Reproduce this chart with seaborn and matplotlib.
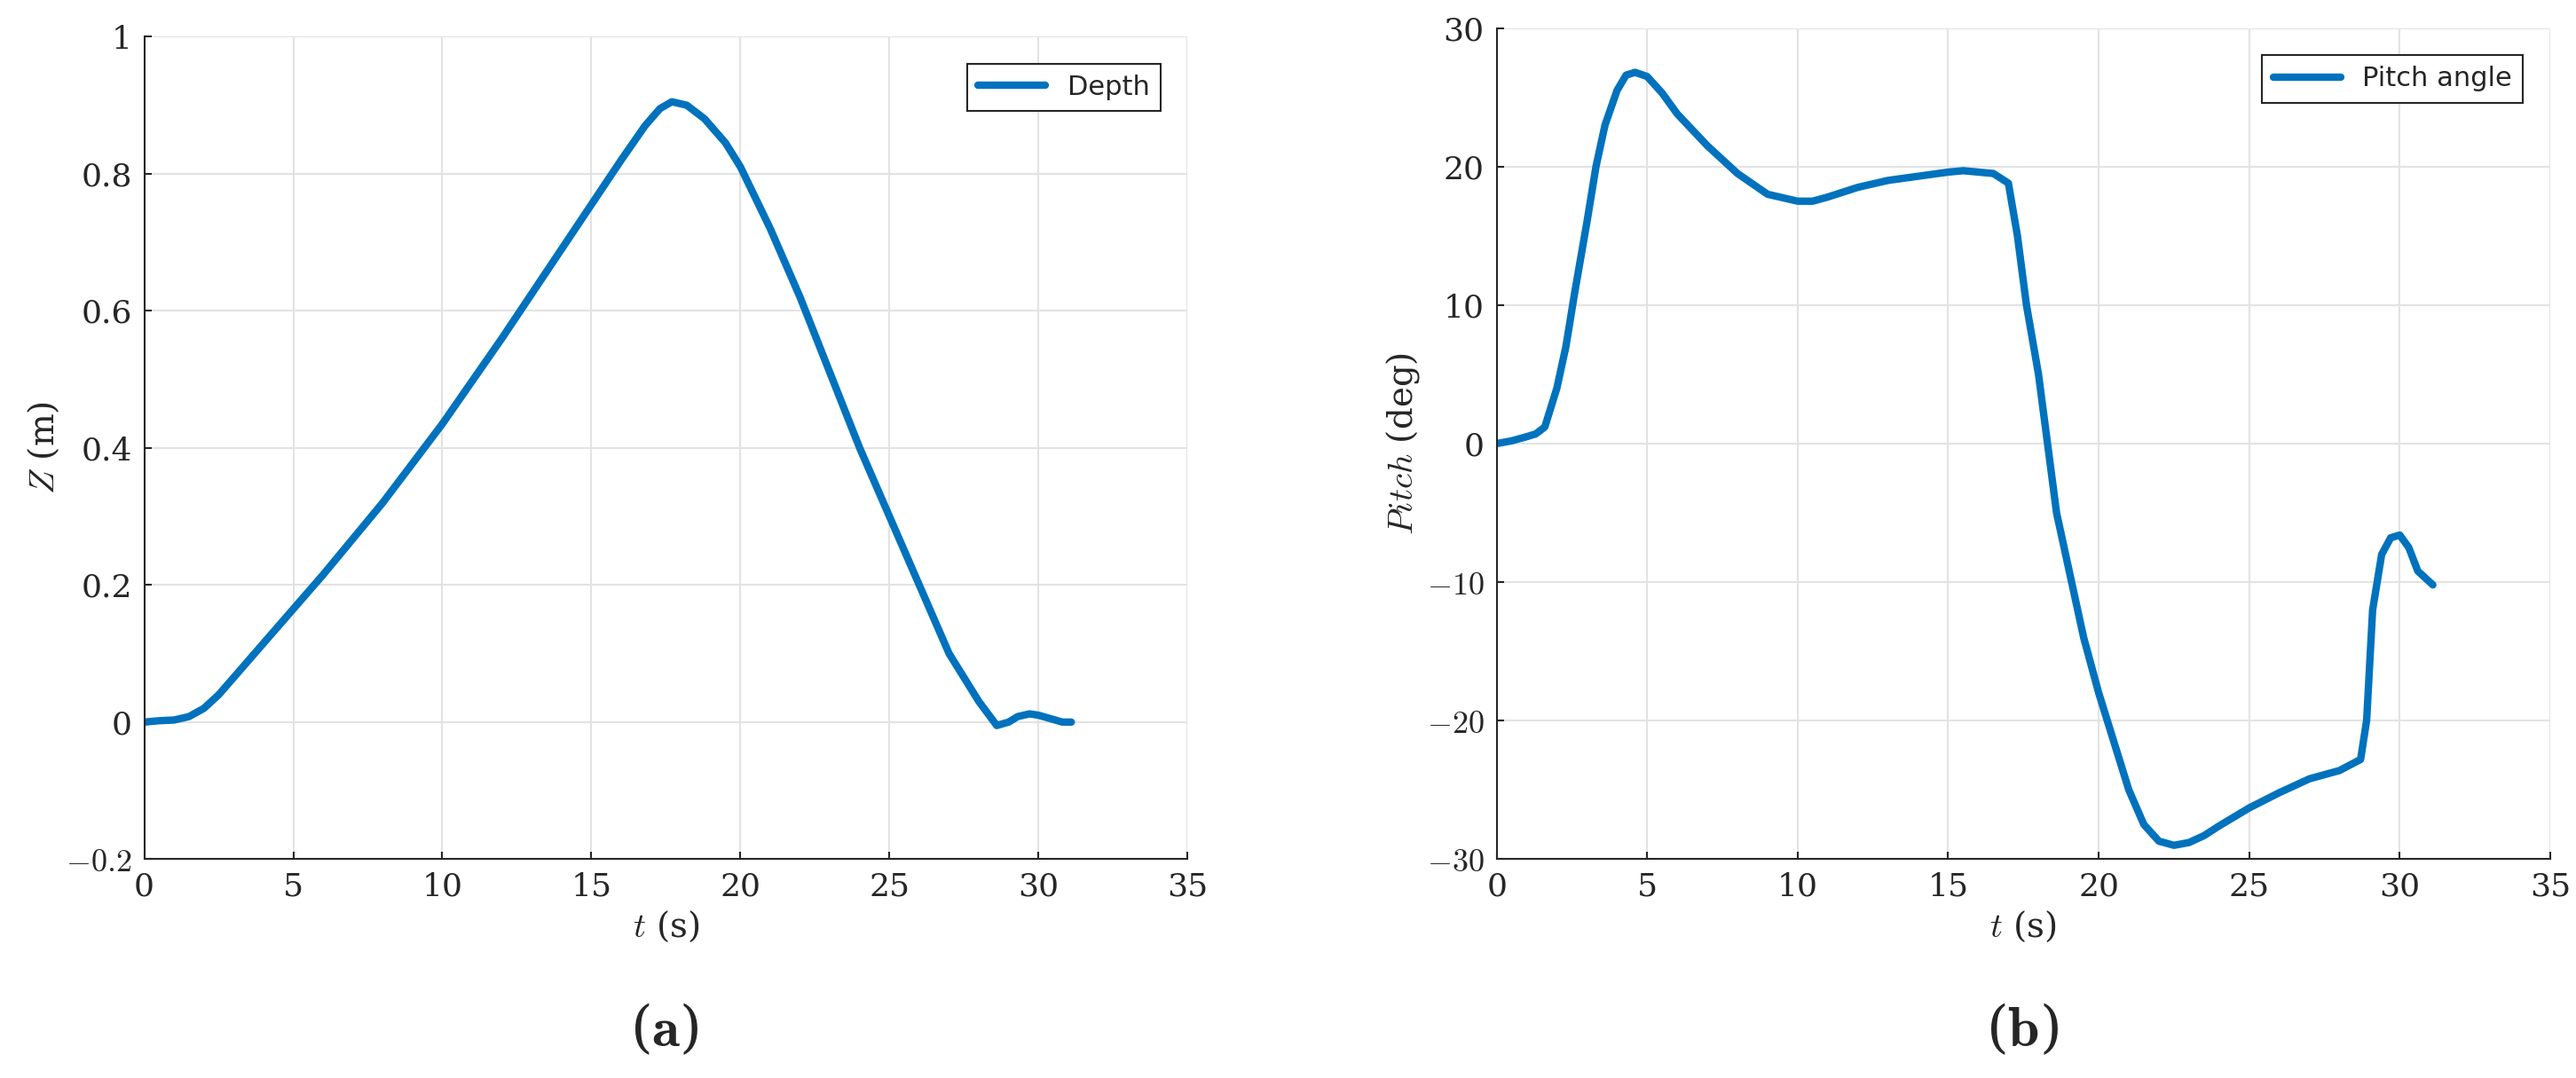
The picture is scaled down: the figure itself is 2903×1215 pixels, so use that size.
import matplotlib
matplotlib.use("Agg")
import matplotlib.pyplot as plt
import seaborn as sns
import numpy as np

sns.set_theme(style="whitegrid")
plt.rcParams['mathtext.fontset'] = 'cm'
plt.rcParams['font.family'] = ['DejaVu Serif']

t_depth = [0, 0.5, 1, 1.5, 2, 2.5, 3, 4, 5, 6, 8, 10, 12, 14, 15, 16, 16.8, 17.3, 17.7, 18.2, 18.8, 19.5, 20, 21, 22, 23, 24, 25, 26, 27, 28, 28.6, 29.0, 29.3, 29.7, 30.0, 30.4, 30.8, 31.1]
depth = [0, 0.002, 0.003, 0.008, 0.02, 0.04, 0.065, 0.115, 0.165, 0.215, 0.32, 0.435, 0.56, 0.69, 0.755, 0.82, 0.87, 0.895, 0.905, 0.9, 0.88, 0.845, 0.81, 0.72, 0.62, 0.51, 0.4, 0.3, 0.2, 0.1, 0.03, -0.005, 0.0, 0.008, 0.012, 0.01, 0.005, 0.0, 0.0]

t_pitch = [0, 0.5, 1, 1.3, 1.6, 2, 2.3, 2.6, 3, 3.3, 3.6, 4, 4.3, 4.6, 5, 5.5, 6, 7, 8, 9, 10, 10.5, 11, 12, 13, 14, 15, 15.5, 16, 16.5, 17, 17.3, 17.6, 18, 18.3, 18.6, 19, 19.5, 20, 20.5, 21, 21.5, 22, 22.5, 23, 23.5, 24, 25, 26, 27, 28, 28.7, 28.9, 29.1, 29.4, 29.7, 30.0, 30.3, 30.6, 31.1]
pitch = [0, 0.2, 0.5, 0.7, 1.2, 4, 7, 11, 16, 20, 23, 25.5, 26.6, 26.8, 26.5, 25.3, 23.8, 21.5, 19.5, 18, 17.5, 17.5, 17.8, 18.5, 19, 19.3, 19.6, 19.7, 19.6, 19.5, 18.8, 15, 10, 5, 0, -5, -9, -14, -18, -21.5, -25, -27.5, -28.7, -29, -28.8, -28.3, -27.6, -26.3, -25.2, -24.2, -23.6, -22.8, -20, -12, -8, -6.8, -6.6, -7.5, -9.2, -10.2]

blue = "#0072BD"
fig = plt.figure(figsize=(29.03, 12.15), dpi=100)
ax1 = fig.add_axes([0.056, 0.203, 0.405, 0.763])
ax2 = fig.add_axes([0.581, 0.203, 0.409, 0.771])

def style(ax):
    ax.set_facecolor("white")
    ax.grid(True, color="#e3e3e3", linewidth=1.5)
    for s in ["top", "right"]:
        ax.spines[s].set_visible(False)
    for s in ["left", "bottom"]:
        ax.spines[s].set_color("#262626")
        ax.spines[s].set_linewidth(1.5)
    ax.tick_params(axis="both", labelsize=26, colors="#262626", direction="in", length=6, width=1.5, left=True, bottom=True, pad=10)
    ax.set_xlim(0, 35)
    ax.set_xticks(range(0, 36, 5))
    ax.set_xlabel(r"$t$ (s)", fontsize=28, color="#262626", labelpad=6)

sns.lineplot(x=t_depth, y=depth, ax=ax1, color=blue, linewidth=6, label="Depth")
style(ax1)
ax1.set_ylim(-0.2, 1)
ax1.set_yticks([-0.2, 0, 0.2, 0.4, 0.6, 0.8, 1])
ax1.set_yticklabels([r"$-0.2$", "0", "0.2", "0.4", "0.6", "0.8", "1"])
ax1.set_ylabel(r"$Z$ (m)", fontsize=28, color="#262626")

sns.lineplot(x=t_pitch, y=pitch, ax=ax2, color=blue, linewidth=6, label="Pitch angle")
style(ax2)
ax2.set_ylim(-30, 30)
ax2.set_yticks(range(-30, 31, 10))
ax2.set_yticklabels([r"$-30$", r"$-20$", r"$-10$", "0", "10", "20", "30"])
ax2.set_ylabel(r"$Pitch$ (deg)", fontsize=28, color="#262626")

for ax in (ax1, ax2):
    leg = ax.legend(loc="upper right", fancybox=False, framealpha=1, edgecolor="#262626", prop={"family": "DejaVu Sans", "size": 22}, handlelength=2.5, borderaxespad=1.0)
    leg.get_frame().set_linewidth(1.5)

fig.text(0.258, 0.045, r"($\mathbf{a}$)", fontsize=46, ha="center", va="center")
fig.text(0.785, 0.045, r"($\mathbf{b}$)", fontsize=46, ha="center", va="center")
fig.savefig("out.png", dpi=100, facecolor="white")
